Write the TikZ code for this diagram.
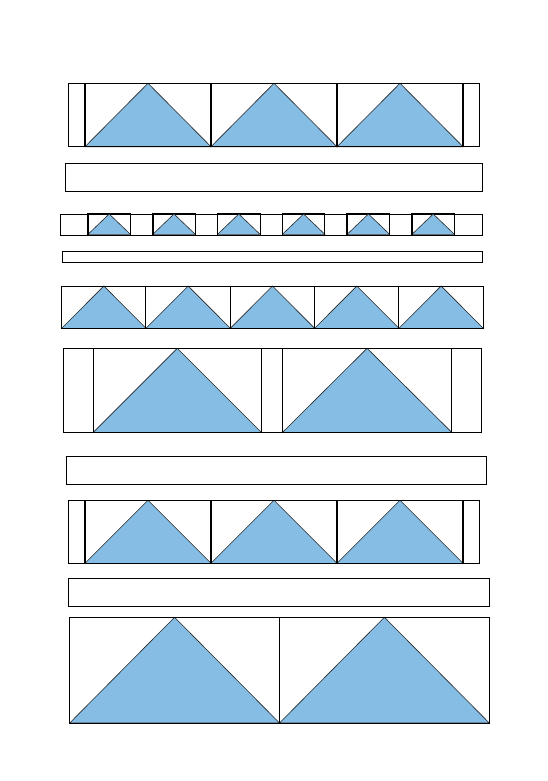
\documentclass[tikz,border=0pt]{standalone}
\begin{document}
\begin{tikzpicture}[x=1pt,y=-1pt,
  tri/.style={fill=triblue,draw=black!85,line width=0.6pt,line join=miter},
  box/.style={draw=black,line width=0.9pt},
  thick box/.style={draw=black,line width=1.6pt}]
\definecolor{triblue}{RGB}{133,189,229}
\useasboundingbox (0,0) rectangle (548,781);
\fill[white] (0,0) rectangle (548,781);
% Row 1
\foreach \i in {0,1,2} {
  \pgfmathsetmacro{\xa}{85+126*\i}
  \filldraw[tri] (\xa,146.7) -- (\xa+63,83.3) -- (\xa+126,146.7) -- cycle;
}
\draw[box] (68.3,83.3) rectangle (479.3,146.7);
\foreach \x in {85,211,337,463} \draw[thick box] (\x,83.3) -- (\x,147.3);
\draw[box] (85,146.9) -- (463,146.9);
% Row 2
\draw[box] (65.3,163.3) rectangle (482.3,191.3);
% Row 3
\draw[box] (60.3,214) rectangle (482.3,235);
\foreach \i in {0,...,5} {
  \pgfmathsetmacro{\xa}{88+64.8*\i}
  \filldraw[tri] (\xa,234.3) -- (\xa+21.2,214) -- (\xa+42.4,234.3) -- cycle;
  \draw[box] (\xa,213.3) rectangle (\xa+42.4,235);
  \draw[thick box] (\xa,213.3) -- (\xa,235.3) -- (\xa+42.4,235.3);
}
% Row 4
\draw[box] (62.3,251.3) rectangle (482.3,262.3);
% Row 5
\foreach \i in {0,...,4} {
  \pgfmathsetmacro{\xa}{61.7+84.32*\i}
  \filldraw[tri] (\xa,328.3) -- (\xa+42.16,286) -- (\xa+84.32,328.3) -- cycle;
}
\draw[box] (61.7,286) rectangle (483.3,328.3);
\foreach \x in {145.9,230.3,314.6,398.9} \draw[box] (\x,286) -- (\x,328.3);
% Row 6
\filldraw[tri] (93.3,432.3) -- (177.3,348.3) -- (261.3,432.3) -- cycle;
\filldraw[tri] (282.6,432.3) -- (367.1,348.3) -- (451.7,432.3) -- cycle;
\draw[box] (63.3,348.3) rectangle (481.7,432.3);
\foreach \x in {93.3,261.3,451.7} \draw[box] (\x,348.3) -- (\x,432.3);
\draw[thick box] (282.6,348.3) -- (282.6,432.3);
% Row 7
\draw[box] (66.3,456) rectangle (486.3,484.3);
% Row 8
\foreach \i in {0,1,2} {
  \pgfmathsetmacro{\xa}{85+126*\i}
  \filldraw[tri] (\xa,563.3) -- (\xa+63,500.3) -- (\xa+126,563.3) -- cycle;
}
\draw[box] (68.3,500.3) rectangle (479.3,563.3);
\foreach \x in {85,211,337,463} \draw[thick box] (\x,500.3) -- (\x,563.3);
% Row 9
\draw[box] (68.3,578.3) rectangle (489.3,606.3);
% Row 10
\filldraw[tri] (69.7,723) -- (174.6,617.3) -- (279.5,723) -- cycle;
\filldraw[tri] (279.5,723) -- (384.4,617.3) -- (489.3,723) -- cycle;
\draw[box] (69.7,617.3) rectangle (489.3,723);
\draw[box] (279.5,617.3) -- (279.5,723);
\end{tikzpicture}
\end{document}
